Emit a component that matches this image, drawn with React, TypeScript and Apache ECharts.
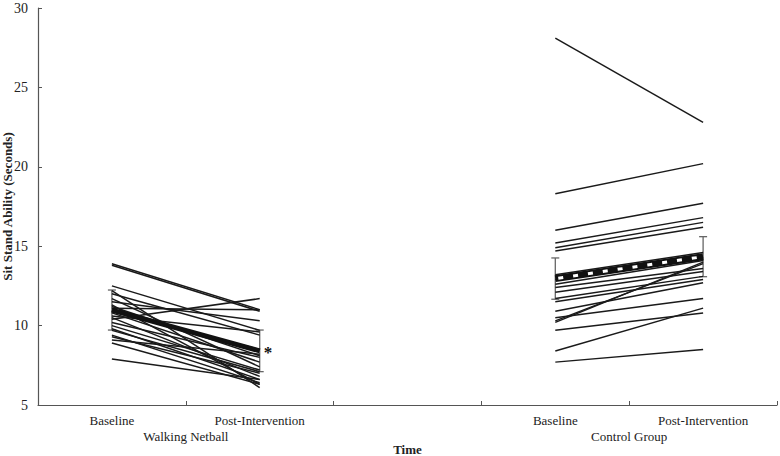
import React, { useEffect, useRef } from "react";
import * as echarts from "echarts";

const categories = ["Baseline", "Post-Intervention", "", "Baseline", "Post-Intervention"];
const groupLabels = ["", "Walking Netball", "", "", "Control Group", ""];

const netballBaseline = [13.9, 13.8, 12.5, 12.2, 12.0, 11.7, 11.5, 11.3, 11.2, 11.1, 10.9, 10.8, 10.6, 10.5, 10.4, 10.2, 10.0, 9.8, 9.7, 9.4, 9.3, 9.1, 8.9, 7.9];
const netballPost = [11.0, 10.9, 9.7, 6.1, 9.4, 7.4, 10.3, 6.3, 8.1, 11.0, 8.5, 7.7, 9.6, 6.8, 11.7, 8.0, 7.2, 6.6, 7.1, 6.4, 7.0, 8.2, 6.3, 6.6];

const controlBaseline = [28.1, 18.3, 16.0, 15.2, 14.9, 14.7, 13.2, 12.9, 12.6, 12.4, 12.1, 11.7, 11.5, 10.9, 10.5, 10.3, 10.2, 9.7, 8.4, 7.7];
const controlPost = [22.8, 20.2, 17.7, 16.8, 16.5, 16.2, 14.6, 14.3, 14.1, 13.6, 13.4, 13.1, 12.9, 12.7, 11.7, 13.9, 14.0, 10.8, 11.1, 8.5];

const netballMean = [10.98, 8.41];
const netballSD = [1.26, 1.31];
const controlMean = [12.96, 14.34];
const controlSD = [1.3, 1.26];

const FONT = '"Liberation Serif", "Times New Roman", serif';

export default function App() {
  const ref = useRef<HTMLDivElement>(null);

  useEffect(() => {
    if (!ref.current) return;
    const chart = echarts.init(ref.current, undefined, { renderer: "svg" });

    const series: any[] = [];
    const indiv = (x0: number, x1: number, b: number[], p: number[]) => {
      b.forEach((v, i) => {
        series.push({
          type: "line",
          data: [[x0, v], [x1, p[i]]],
          symbol: "none",
          silent: true,
          lineStyle: { color: "#1a1a1a", width: 1.5 },
          z: 2,
        });
      });
    };
    indiv(0, 1, netballBaseline, netballPost);
    indiv(3, 4, controlBaseline, controlPost);

    const errData = [
      [0, netballMean[0] - netballSD[0], netballMean[0] + netballSD[0]],
      [1, netballMean[1] - netballSD[1], netballMean[1] + netballSD[1]],
      [3, controlMean[0] - controlSD[0], controlMean[0] + controlSD[0]],
      [4, controlMean[1] - controlSD[1], controlMean[1] + controlSD[1]],
    ];
    series.push({
      type: "custom",
      silent: true,
      z: 1,
      data: errData,
      renderItem: (params: any, api: any) => {
        const x = api.value(0);
        const lo = api.coord([x, api.value(1)]);
        const hi = api.coord([x, api.value(2)]);
        const cw = 4;
        const st = { stroke: "#666", lineWidth: 1.3 };
        return {
          type: "group",
          children: [
            { type: "line", shape: { x1: lo[0], y1: lo[1], x2: hi[0], y2: hi[1] }, style: st },
            { type: "line", shape: { x1: lo[0] - cw, y1: lo[1], x2: lo[0] + cw, y2: lo[1] }, style: st },
            { type: "line", shape: { x1: hi[0] - cw, y1: hi[1], x2: hi[0] + cw, y2: hi[1] }, style: st },
          ],
        };
      },
    });

    series.push({
      type: "line",
      data: [[0, netballMean[0]], [1, netballMean[1]]],
      symbol: "none",
      silent: true,
      lineStyle: { color: "#111", width: 5 },
      endLabel: { show: true, formatter: "*", distance: 4, fontSize: 17, fontWeight: "bold", color: "#111", fontFamily: FONT, offset: [0, 2] },
      z: 5,
    });
    series.push({
      type: "line",
      data: [[3, controlMean[0]], [4, controlMean[1]]],
      symbol: "none",
      silent: true,
      lineStyle: { color: "#111", width: 7 },
      z: 5,
    });
    series.push({
      type: "line",
      data: [[3, controlMean[0]], [4, controlMean[1]]],
      symbol: "none",
      silent: true,
      lineStyle: { color: "#fff", width: 3, type: [5, 10], dashOffset: 12 },
      z: 6,
    });

    chart.setOption({
      animation: false,
      grid: { left: 38, right: 3, top: 8, bottom: 51, containLabel: false, outerBoundsMode: "none" },
      xAxis: [
        {
          type: "category",
          data: categories,
          boundaryGap: true,
          name: "Time",
          nameLocation: "middle",
          nameGap: 38,
          nameMoveOverlap: false,
          nameTextStyle: { fontFamily: FONT, fontSize: 13, fontWeight: "bold", color: "#222" },
          axisLine: { lineStyle: { color: "#555", width: 1.2 } },
          axisTick: { show: true, inside: true, length: 4, alignWithLabel: false, lineStyle: { color: "#555" } },
          axisLabel: { fontFamily: FONT, fontSize: 13, color: "#222", margin: 9, interval: 0 },
          splitLine: { show: false },
        },
        {
          type: "value",
          min: 0,
          max: 5,
          interval: 1,
          position: "bottom",
          axisLine: { show: false },
          axisTick: { show: false },
          splitLine: { show: false },
          axisLabel: {
            fontFamily: FONT,
            fontSize: 13,
            color: "#222",
            margin: 25,
            formatter: (v: number) => groupLabels[Math.round(v)] || "",
          },
        },
      ],
      yAxis: {
        type: "value",
        min: 5,
        max: 30,
        interval: 5,
        name: "Sit Stand Ability (Seconds)",
        nameLocation: "middle",
        nameGap: 24,
        nameMoveOverlap: false,
        nameTextStyle: { fontFamily: FONT, fontSize: 13, fontWeight: "bold", color: "#222" },
        axisLine: { show: true, lineStyle: { color: "#555", width: 1.2 } },
        axisTick: { show: true, inside: true, length: 4, lineStyle: { color: "#555" } },
        axisLabel: { fontFamily: FONT, fontSize: 14, color: "#222", margin: 10 },
        splitLine: { show: false },
      },
      series,
    });

    return () => chart.dispose();
  }, []);

  return <div ref={ref} style={{ width: 780, height: 456, position: "absolute", left: 0, top: 0, background: "#fff" }} />;
}
